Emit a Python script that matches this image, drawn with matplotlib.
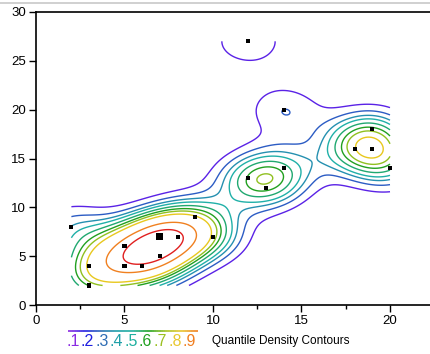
import numpy as np
import matplotlib
matplotlib.use("Agg")
import matplotlib.pyplot as plt
from matplotlib.lines import Line2D
from matplotlib.collections import LineCollection
from collections import Counter

# data points
x_pts = [12, 14, 18, 19, 19, 20, 12, 13, 14,
         2, 3, 3, 5, 5, 6, 7, 7, 7, 8, 9, 10]
y_pts = [27, 20, 16, 18, 16, 14, 13, 12, 14,
         8, 4, 2, 6, 4, 4, 7, 7, 5, 7, 9, 7]

# contour quantiles (outer -> inner) and colours
quantiles = [0.1, 0.2, 0.27, 0.34, 0.42, 0.5, 0.57, 0.65, 0.8, 0.9]
contour_colors = ['#5a22e6', '#2c5cc4', '#2590b0', '#20b0a8', '#20a870',
                  '#22a020', '#90c020', '#e8c81e', '#f08020', '#e02020']

legend_labels = ['.1', '.2', '.3', '.4', '.5', '.6', '.7', '.8', '.9']
legend_colors = ['#8a2be2', '#2020e0', '#2e6db4', '#1f9fa8', '#20b0a0',
                 '#20a020', '#9bc020', '#e8c830', '#f07f20']

x_ticks = [0, 5, 10, 15, 20]
y_ticks = [0, 5, 10, 15, 20, 25, 30]

bw_x, bw_y = 1.7, 2.1


def kde_grid(xs, ys):
    gx = np.linspace(min(xs), max(xs), 181)
    gy = np.linspace(min(ys), max(ys), 251)
    X, Y = np.meshgrid(gx, gy)
    Z = np.zeros_like(X)
    for px, py in zip(xs, ys):
        Z += np.exp(-0.5 * (((X - px) / bw_x) ** 2 + ((Y - py) / bw_y) ** 2))
    return X, Y, Z


def mass_levels(Z, qs):
    z = np.sort(Z.ravel())[::-1]
    cum = np.cumsum(z)
    cum /= cum[-1]
    levels = []
    for q in qs:
        # contour enclosing (1 - q) of the mass
        idx = np.searchsorted(cum, 1 - q)
        levels.append(z[min(idx, len(z) - 1)])
    return levels


fig = plt.figure(figsize=(4.30, 3.54), dpi=100)
ax = fig.add_axes([36 / 430, 49 / 354, 1 - 36 / 430, 293 / 354])

X, Y, Z = kde_grid(x_pts, y_pts)
levels = mass_levels(Z, quantiles)
order = np.argsort(levels)
ax.contour(X, Y, Z, levels=[levels[i] for i in order],
           colors=[contour_colors[i] for i in order], linewidths=1.0)

counts = Counter(zip(x_pts, y_pts))
pts = list(counts.keys())
ax.scatter([p[0] for p in pts], [p[1] for p in pts],
           s=[9 * counts[p] ** 1.5 for p in pts], marker='s', color='black',
           zorder=5, linewidths=0)

ax.set_xlim(0, 22.26)
ax.set_ylim(0, 30)
ax.set_xticks(x_ticks)
ax.set_xticks([2.5, 7.5, 12.5, 17.5], minor=True)
ax.set_yticks(y_ticks)
ax.spines['right'].set_visible(False)
for s in ['left', 'bottom', 'top']:
    ax.spines[s].set_linewidth(1.2)
ax.tick_params(axis='both', which='major', length=5, width=1, labelsize=9.5,
               direction='out', pad=2)
ax.tick_params(axis='x', which='minor', length=3, width=1, direction='out')
for lab in ax.get_xticklabels() + ax.get_yticklabels():
    lab.set_fontfamily('Liberation Sans')

# thin grey frame line at top of the figure
fig.add_artist(Line2D([0, 1], [351 / 354, 351 / 354], color='#c8c8c8', lw=1.2))

# legend: gradient bar plus coloured labels
cmap = matplotlib.colors.LinearSegmentedColormap.from_list('leg', legend_colors)
bx = np.linspace(68 / 430, 198 / 430, 60)
by = (354 - 331) / 354
segs = [[(bx[i], by), (bx[i + 1], by)] for i in range(len(bx) - 1)]
lc = LineCollection(segs, colors=cmap(np.linspace(0, 1, len(segs))),
                    linewidths=1.2, transform=fig.transFigure)
fig.add_artist(lc)

x0 = 66 / 430
for lab, col in zip(legend_labels, legend_colors):
    fig.text(x0, (354 - 342) / 354, lab, color=col, fontsize=11.5,
             family='Liberation Sans', va='center', ha='left')
    x0 += 14.6 / 430
fig.text(212 / 430, (354 - 341) / 354, 'Quantile Density Contours', fontsize=8.5,
         family='Liberation Sans', va='center', ha='left')

fig.savefig('out.png', dpi=100)
